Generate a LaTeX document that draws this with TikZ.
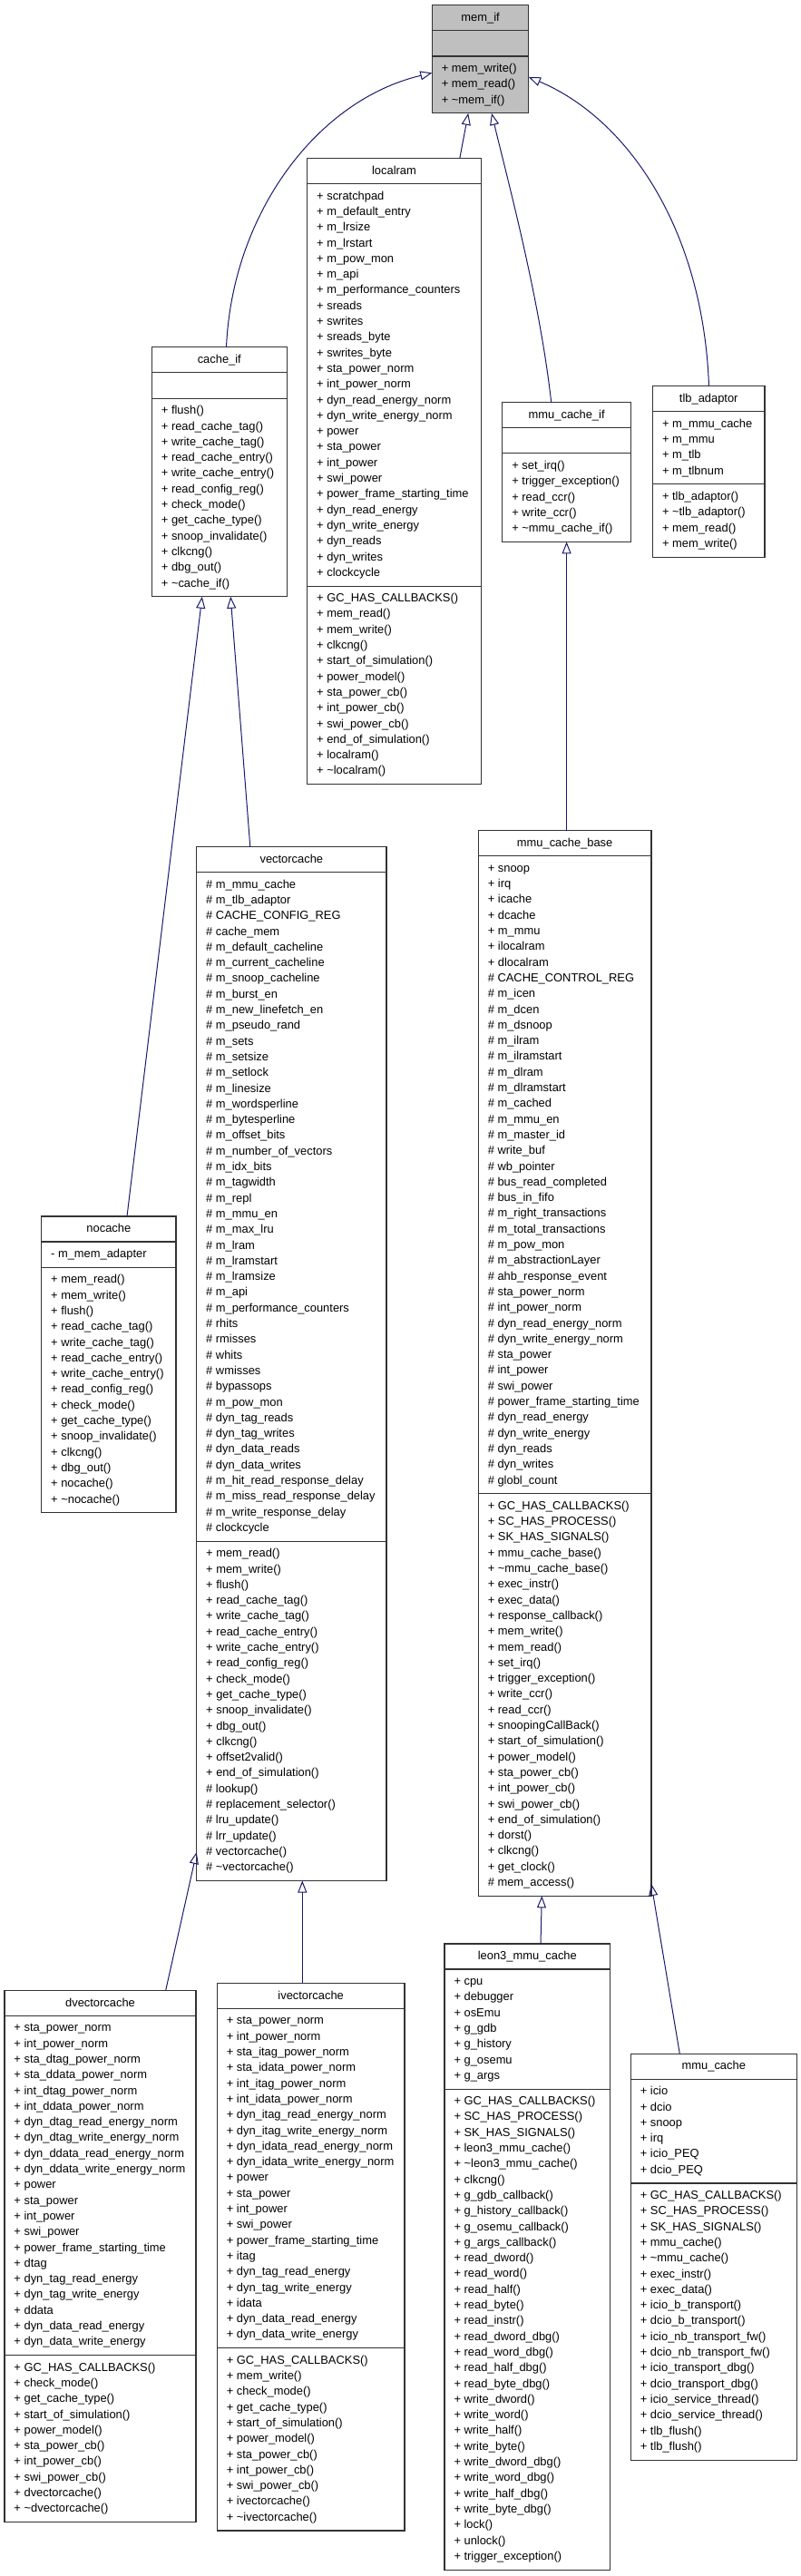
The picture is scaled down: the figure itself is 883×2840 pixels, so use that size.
\documentclass[tikz,border=0pt]{standalone}
\usepackage{fontspec}
\setmainfont{Liberation Sans}
\usetikzlibrary{arrows.meta,calc}
\definecolor{edgeblue}{HTML}{191970}
\definecolor{memgray}{HTML}{BFBFBF}
\definecolor{boxborder}{HTML}{333333}
\newcommand\memberfont{\fontsize{12.9}{17.3}\selectfont}
\newcommand\dt{\textasciitilde}
\def\boxfill{white}
\tikzset{
  classbox/.style={draw=boxborder, line width=1.1pt, fill=\boxfill, inner sep=0pt, outer sep=0pt},
  boxline/.style={draw=boxborder, line width=1.1pt},
  titletext/.style={anchor=base, inner sep=0pt, font=\memberfont},
  membertext/.style={anchor=north west, inner sep=0pt, outer sep=0pt, align=left, font=\memberfont},
  inherit/.style={draw=edgeblue, line width=1pt, -{Triangle[open, length=13pt, width=10pt]}}
}
% #1 name, #2 x, #3 top, #4 width, #5 title, #6 attr rows, #7 attrs, #8 method rows, #9 methods
\newcommand\umlclass[9]{%
  \pgfmathsetmacro\ya{#3+28}%
  \pgfmathsetmacro\yb{\ya+#6*17.3+11}%
  \pgfmathsetmacro\yc{\yb+#8*17.3+11}%
  \pgfmathsetmacro\hh{\yc-#3}%
  \node[classbox, minimum width=#4pt, minimum height=\hh pt, anchor=north west] (#1) at (#2,#3) {};
  \draw[boxline] (#2,\ya) -- ++(#4,0);
  \draw[boxline] (#2,\yb) -- ++(#4,0);
  \node[titletext] (#1-t) at (#2+#4/2, #3+17.7) {#5};
  \node[membertext] (#1-a) at (#2+10.5, \ya+5.4) {\strut#7};
  \node[membertext] (#1-m) at (#2+10.5, \yb+5.4) {\strut#9};
}
\begin{document}
\catcode`\_=12
\begin{tikzpicture}[x=1pt,y=-1pt]
\fill[white] (0,0) rectangle (883,2840);
\useasboundingbox (0,0) rectangle (883,2840);

\def\boxfill{memgray}
\umlclass{memif}{476.3}{5.7}{106.6}{mem_if}{1}{}{3}{+ mem_write()\\+ mem_read()\\+ \dt mem_if()}
\def\boxfill{white}

\umlclass{localram}{338.7}{174.6}{191.6}{localram}{25}{+ scratchpad\\+ m_default_entry\\+ m_lrsize\\+ m_lrstart\\+ m_pow_mon\\+ m_api\\+ m_performance_counters\\+ sreads\\+ swrites\\+ sreads_byte\\+ swrites_byte\\+ sta_power_norm\\+ int_power_norm\\+ dyn_read_energy_norm\\+ dyn_write_energy_norm\\+ power\\+ sta_power\\+ int_power\\+ swi_power\\+ power_frame_starting_time\\+ dyn_read_energy\\+ dyn_write_energy\\+ dyn_reads\\+ dyn_writes\\+ clockcycle}{12}{+ GC_HAS_CALLBACKS()\\+ mem_read()\\+ mem_write()\\+ clkcng()\\+ start_of_simulation()\\+ power_model()\\+ sta_power_cb()\\+ int_power_cb()\\+ swi_power_cb()\\+ end_of_simulation()\\+ localram()\\+ \dt localram()}

\umlclass{cacheif}{167.4}{382.9}{148.8}{cache_if}{1}{}{12}{+ flush()\\+ read_cache_tag()\\+ write_cache_tag()\\+ read_cache_entry()\\+ write_cache_entry()\\+ read_config_reg()\\+ check_mode()\\+ get_cache_type()\\+ snoop_invalidate()\\+ clkcng()\\+ dbg_out()\\+ \dt cache_if()}

\umlclass{mmucacheif}{553.8}{443.6}{141.7}{mmu_cache_if}{1}{}{5}{+ set_irq()\\+ trigger_exception()\\+ read_ccr()\\+ write_ccr()\\+ \dt mmu_cache_if()}

\umlclass{tlbadaptor}{719.5}{425.7}{123.5}{tlb_adaptor}{4}{+ m_mmu_cache\\+ m_mmu\\+ m_tlb\\+ m_tlbnum}{4}{+ tlb_adaptor()\\+ \dt tlb_adaptor()\\+ mem_read()\\+ mem_write()}

\umlclass{nocache}{45.7}{1341}{148.3}{nocache}{1}{- m_mem_adapter}{15}{+ mem_read()\\+ mem_write()\\+ flush()\\+ read_cache_tag()\\+ write_cache_tag()\\+ read_cache_entry()\\+ write_cache_entry()\\+ read_config_reg()\\+ check_mode()\\+ get_cache_type()\\+ snoop_invalidate()\\+ clkcng()\\+ dbg_out()\\+ nocache()\\+ \dt nocache()}

\umlclass{vectorcache}{216.7}{933.6}{209.3}{vectorcache}{42}{\# m_mmu_cache\\\# m_tlb_adaptor\\\# CACHE_CONFIG_REG\\\# cache_mem\\\# m_default_cacheline\\\# m_current_cacheline\\\# m_snoop_cacheline\\\# m_burst_en\\\# m_new_linefetch_en\\\# m_pseudo_rand\\\# m_sets\\\# m_setsize\\\# m_setlock\\\# m_linesize\\\# m_wordsperline\\\# m_bytesperline\\\# m_offset_bits\\\# m_number_of_vectors\\\# m_idx_bits\\\# m_tagwidth\\\# m_repl\\\# m_mmu_en\\\# m_max_lru\\\# m_lram\\\# m_lramstart\\\# m_lramsize\\\# m_api\\\# m_performance_counters\\\# rhits\\\# rmisses\\\# whits\\\# wmisses\\\# bypassops\\\# m_pow_mon\\\# dyn_tag_reads\\\# dyn_tag_writes\\\# dyn_data_reads\\\# dyn_data_writes\\\# m_hit_read_response_delay\\\# m_miss_read_response_delay\\\# m_write_response_delay\\\# clockcycle}{21}{+ mem_read()\\+ mem_write()\\+ flush()\\+ read_cache_tag()\\+ write_cache_tag()\\+ read_cache_entry()\\+ write_cache_entry()\\+ read_config_reg()\\+ check_mode()\\+ get_cache_type()\\+ snoop_invalidate()\\+ dbg_out()\\+ clkcng()\\+ offset2valid()\\+ end_of_simulation()\\\# lookup()\\\# replacement_selector()\\\# lru_update()\\\# lrr_update()\\\# vectorcache()\\\# \dt vectorcache()}

\umlclass{mmucachebase}{527.3}{915.8}{190.7}{mmu_cache_base}{40}{+ snoop\\+ irq\\+ icache\\+ dcache\\+ m_mmu\\+ ilocalram\\+ dlocalram\\\# CACHE_CONTROL_REG\\\# m_icen\\\# m_dcen\\\# m_dsnoop\\\# m_ilram\\\# m_ilramstart\\\# m_dlram\\\# m_dlramstart\\\# m_cached\\\# m_mmu_en\\\# m_master_id\\\# write_buf\\\# wb_pointer\\\# bus_read_completed\\\# bus_in_fifo\\\# m_right_transactions\\\# m_total_transactions\\\# m_pow_mon\\\# m_abstractionLayer\\\# ahb_response_event\\\# sta_power_norm\\\# int_power_norm\\\# dyn_read_energy_norm\\\# dyn_write_energy_norm\\\# sta_power\\\# int_power\\\# swi_power\\\# power_frame_starting_time\\\# dyn_read_energy\\\# dyn_write_energy\\\# dyn_reads\\\# dyn_writes\\\# globl_count}{25}{+ GC_HAS_CALLBACKS()\\+ SC_HAS_PROCESS()\\+ SK_HAS_SIGNALS()\\+ mmu_cache_base()\\+ \dt mmu_cache_base()\\+ exec_instr()\\+ exec_data()\\+ response_callback()\\+ mem_write()\\+ mem_read()\\+ set_irq()\\+ trigger_exception()\\+ write_ccr()\\+ read_ccr()\\+ snoopingCallBack()\\+ start_of_simulation()\\+ power_model()\\+ sta_power_cb()\\+ int_power_cb()\\+ swi_power_cb()\\+ end_of_simulation()\\+ dorst()\\+ clkcng()\\+ get_clock()\\\# mem_access()}

\umlclass{dvectorcache}{5}{2194.3}{211}{dvectorcache}{21}{+ sta_power_norm\\+ int_power_norm\\+ sta_dtag_power_norm\\+ sta_ddata_power_norm\\+ int_dtag_power_norm\\+ int_ddata_power_norm\\+ dyn_dtag_read_energy_norm\\+ dyn_dtag_write_energy_norm\\+ dyn_ddata_read_energy_norm\\+ dyn_ddata_write_energy_norm\\+ power\\+ sta_power\\+ int_power\\+ swi_power\\+ power_frame_starting_time\\+ dtag\\+ dyn_tag_read_energy\\+ dyn_tag_write_energy\\+ ddata\\+ dyn_data_read_energy\\+ dyn_data_write_energy}{10}{+ GC_HAS_CALLBACKS()\\+ check_mode()\\+ get_cache_type()\\+ start_of_simulation()\\+ power_model()\\+ sta_power_cb()\\+ int_power_cb()\\+ swi_power_cb()\\+ dvectorcache()\\+ \dt dvectorcache()}

\umlclass{ivectorcache}{239.3}{2186.4}{206.7}{ivectorcache}{21}{+ sta_power_norm\\+ int_power_norm\\+ sta_itag_power_norm\\+ sta_idata_power_norm\\+ int_itag_power_norm\\+ int_idata_power_norm\\+ dyn_itag_read_energy_norm\\+ dyn_itag_write_energy_norm\\+ dyn_idata_read_energy_norm\\+ dyn_idata_write_energy_norm\\+ power\\+ sta_power\\+ int_power\\+ swi_power\\+ power_frame_starting_time\\+ itag\\+ dyn_tag_read_energy\\+ dyn_tag_write_energy\\+ idata\\+ dyn_data_read_energy\\+ dyn_data_write_energy}{11}{+ GC_HAS_CALLBACKS()\\+ mem_write()\\+ check_mode()\\+ get_cache_type()\\+ start_of_simulation()\\+ power_model()\\+ sta_power_cb()\\+ int_power_cb()\\+ swi_power_cb()\\+ ivectorcache()\\+ \dt ivectorcache()}

\umlclass{leonmmu}{490}{2143}{182.7}{leon3_mmu_cache}{7}{+ cpu\\+ debugger\\+ osEmu\\+ g_gdb\\+ g_history\\+ g_osemu\\+ g_args}{30}{+ GC_HAS_CALLBACKS()\\+ SC_HAS_PROCESS()\\+ SK_HAS_SIGNALS()\\+ leon3_mmu_cache()\\+ \dt leon3_mmu_cache()\\+ clkcng()\\+ g_gdb_callback()\\+ g_history_callback()\\+ g_osemu_callback()\\+ g_args_callback()\\+ read_dword()\\+ read_word()\\+ read_half()\\+ read_byte()\\+ read_instr()\\+ read_dword_dbg()\\+ read_word_dbg()\\+ read_half_dbg()\\+ read_byte_dbg()\\+ write_dword()\\+ write_word()\\+ write_half()\\+ write_byte()\\+ write_dword_dbg()\\+ write_word_dbg()\\+ write_half_dbg()\\+ write_byte_dbg()\\+ lock()\\+ unlock()\\+ trigger_exception()}

\umlclass{mmucache}{695.3}{2264.2}{183}{mmu_cache}{6}{+ icio\\+ dcio\\+ snoop\\+ irq\\+ icio_PEQ\\+ dcio_PEQ}{17}{+ GC_HAS_CALLBACKS()\\+ SC_HAS_PROCESS()\\+ SK_HAS_SIGNALS()\\+ mmu_cache()\\+ \dt mmu_cache()\\+ exec_instr()\\+ exec_data()\\+ icio_b_transport()\\+ dcio_b_transport()\\+ icio_nb_transport_fw()\\+ dcio_nb_transport_fw()\\+ icio_transport_dbg()\\+ dcio_transport_dbg()\\+ icio_service_thread()\\+ dcio_service_thread()\\+ tlb_flush()\\+ tlb_flush()}

% inheritance connectors
\draw[inherit] ($(cacheif.north west)+(82.1,0)$) .. controls (256,235) and (350,110) .. ($(memif.north west)+(0,74.7)$);
\draw[inherit] ($(localram.north west)+(168.1,0)$) -- ($(memif.south west)+(39.9,0)$);
\draw[inherit] ($(mmucacheif.north west)+(53.9,0)$) .. controls (595,330) and (560,200) .. ($(memif.south west)+(65.7,0)$);
\draw[inherit] ($(tlbadaptor.north west)+(62,0)$) .. controls (775,250) and (690,130) .. ($(memif.north east)+(0,79.3)$);
\draw[inherit] ($(nocache.north west)+(94.3,0)$) -- ($(cacheif.south west)+(55.4,0)$);
\draw[inherit] ($(vectorcache.north west)+(59.1,0)$) -- ($(cacheif.south west)+(86.8,0)$);
\draw[inherit] ($(mmucachebase.north west)+(97.3,0)$) -- ($(mmucacheif.south west)+(70.8,0)$);
\draw[inherit] ($(dvectorcache.north west)+(177.7,0)$) -- ($(vectorcache.south west)+(0,-31.5)$);
\draw[inherit] ($(ivectorcache.north west)+(94,0)$) -- ($(vectorcache.south west)+(116.6,0)$);
\draw[inherit] ($(leonmmu.north west)+(106,0)$) -- ($(mmucachebase.south west)+(70,0)$);
\draw[inherit] ($(mmucache.north west)+(54,0)$) -- ($(mmucachebase.south east)+(0,-13.3)$);
\end{tikzpicture}
\end{document}
